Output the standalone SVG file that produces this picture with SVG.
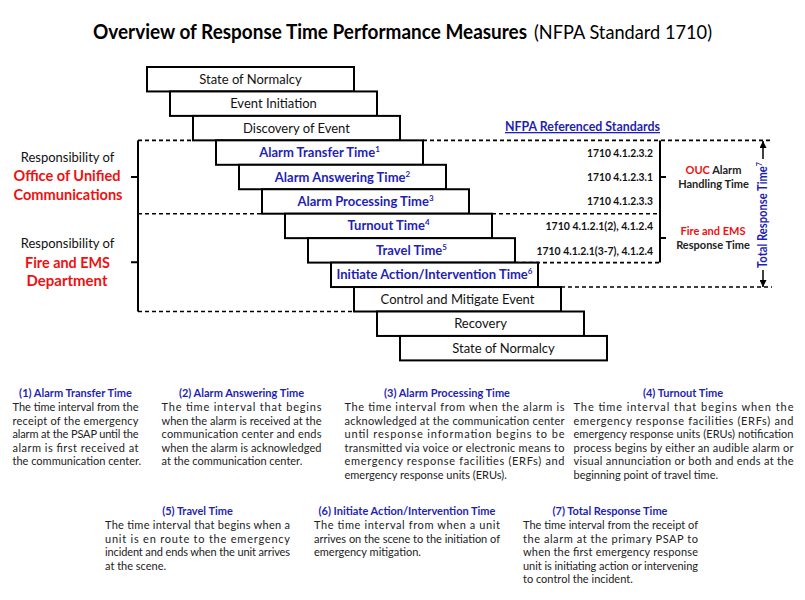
<svg xmlns="http://www.w3.org/2000/svg" width="805" height="600" viewBox="0 0 805 600">
<style>
text { font-family: Lato, "Liberation Sans", sans-serif; }
.box { fill:#fff; stroke:#000; stroke-width:2; }
.lbl { font-size:13px; text-anchor:middle; fill:#111; }
.blbl { font-weight:bold; fill:#1f1fb4; }
.dash { stroke:#000; stroke-width:1.6; stroke-dasharray:4 3; fill:none; }
.solid { stroke:#000; stroke-width:2; fill:none; }
.arr { stroke:#000; stroke-width:1.5; fill:none; marker-end:url(#ah); }
.hd { font-weight:bold; font-size:11px; fill:#1f1fb4; text-anchor:middle; }
.bd { font-size:11px; fill:#222; }
.std { font-weight:bold; font-size:12px; text-anchor:end; fill:#111; }
.side { font-weight:bold; font-size:11px; text-anchor:middle; fill:#222; }
.red { fill:#ee1111; }
.resp { font-size:13px; text-anchor:middle; fill:#111; }
.org { font-size:16px; font-weight:bold; text-anchor:middle; fill:#ee1111; }
</style>
<defs>
<marker id="ah" markerWidth="7" markerHeight="7" refX="7" refY="3.5" orient="auto" markerUnits="userSpaceOnUse">
<path d="M0,0 L7,3.5 L0,7 z" fill="#000"/>
</marker>
</defs>

<g id="title">
<text x="93" y="38.5" font-size="20" font-weight="bold" fill="#000" textLength="434" lengthAdjust="spacingAndGlyphs">Overview of Response Time Performance Measures</text>
<text x="534" y="38.5" font-size="20" fill="#000" textLength="178" lengthAdjust="spacingAndGlyphs">(NFPA Standard 1710)</text>
</g>

<g id="connectors">
<path class="solid" d="M138,140.4 V311.5 M131,177 H138 M131,262.3 H138"/>
<path class="dash" d="M138,140.4 H193 M138,213.7 H262 M138,311.5 H354"/>
<path class="dash" d="M423,140.4 H772 M492,213.7 H660 M515,262.6 H660 M561,287 H772"/>
<path class="solid" d="M660,140.4 V262.6 M660,177 H666 M660,238 H666"/>
<line class="arr" x1="763" y1="159" x2="763" y2="141"/>
<line class="arr" x1="763" y1="270" x2="763" y2="287"/>
</g>

<g id="n-state1"><rect class="box" x="147" y="67" width="207" height="24.45"/><text class="lbl" x="250.5" y="83.7">State of Normalcy</text></g>
<g id="n-initiation"><rect class="box" x="170" y="91.45" width="207" height="24.45"/><text class="lbl" x="273.5" y="108.2">Event Initiation</text></g>
<g id="n-discovery"><rect class="box" x="193" y="115.9" width="207" height="24.45"/><text class="lbl" x="296.5" y="132.6">Discovery of Event</text></g>
<g id="n-transfer"><rect class="box" x="216" y="140.35" width="207" height="24.45"/><text class="lbl blbl" x="319.5" y="157.1">Alarm Transfer Time<tspan font-size="8" dy="-5">1</tspan></text></g>
<g id="n-answering"><rect class="box" x="239" y="164.8" width="207" height="24.45"/><text class="lbl blbl" x="342.5" y="181.5">Alarm Answering Time<tspan font-size="8" dy="-5">2</tspan></text></g>
<g id="n-processing"><rect class="box" x="262" y="189.25" width="207" height="24.45"/><text class="lbl blbl" x="365.5" y="205.9">Alarm Processing Time<tspan font-size="8" dy="-5">3</tspan></text></g>
<g id="n-turnout"><rect class="box" x="285" y="213.7" width="207" height="24.45"/><text class="lbl blbl" x="388.5" y="230.4">Turnout Time<tspan font-size="8" dy="-5">4</tspan></text></g>
<g id="n-travel"><rect class="box" x="308" y="238.15" width="207" height="24.45"/><text class="lbl blbl" x="411.5" y="254.8">Travel Time<tspan font-size="8" dy="-5">5</tspan></text></g>
<g id="n-initiate"><rect class="box" x="331" y="262.6" width="207" height="24.45"/><text class="lbl blbl" x="434.5" y="279.3">Initiate Action/Intervention Time<tspan font-size="8" dy="-5">6</tspan></text></g>
<g id="n-control"><rect class="box" x="354" y="287.05" width="207" height="24.45"/><text class="lbl" x="457.5" y="303.7">Control and Mitigate Event</text></g>
<g id="n-recovery"><rect class="box" x="377" y="311.5" width="207" height="24.45"/><text class="lbl" x="480.5" y="328.2">Recovery</text></g>
<g id="n-state2"><rect class="box" x="400" y="335.95" width="207" height="24.45"/><text class="lbl" x="503.5" y="352.6">State of Normalcy</text></g>

<g id="ouc-label">
<text class="resp" x="67.5" y="162">Responsibility of</text>
<text class="org" x="67" y="180.7" textLength="107" lengthAdjust="spacingAndGlyphs">Office of Unified</text>
<text class="org" x="68" y="200" textLength="109" lengthAdjust="spacingAndGlyphs">Communications</text>
</g>
<g id="fes-label">
<text class="resp" x="67.5" y="248">Responsibility of</text>
<text class="org" x="67.5" y="267.5" textLength="85" lengthAdjust="spacingAndGlyphs">Fire and EMS</text>
<text class="org" x="67" y="285.5" textLength="81" lengthAdjust="spacingAndGlyphs">Department</text>
</g>

<g id="standards">
<text x="582.5" y="131" font-size="13" font-weight="bold" fill="#1f1fb4" text-anchor="middle" text-decoration="underline" textLength="155" lengthAdjust="spacingAndGlyphs">NFPA Referenced Standards</text>
<text class="std" x="653" y="156.5" textLength="66" lengthAdjust="spacingAndGlyphs">1710 4.1.2.3.2</text>
<text class="std" x="653" y="180.5" textLength="66" lengthAdjust="spacingAndGlyphs">1710 4.1.2.3.1</text>
<text class="std" x="653" y="205" textLength="66" lengthAdjust="spacingAndGlyphs">1710 4.1.2.3.3</text>
<text class="std" x="653" y="230" textLength="107.5" lengthAdjust="spacingAndGlyphs">1710 4.1.2.1(2), 4.1.2.4</text>
<text class="std" x="653" y="254.5" textLength="116.5" lengthAdjust="spacingAndGlyphs">1710 4.1.2.1(3-7), 4.1.2.4</text>
</g>
<g id="ouc-handling">
<text class="side" x="713.5" y="174"><tspan class="red">OUC</tspan> Alarm</text>
<text class="side" x="713.5" y="187.5">Handling Time</text>
</g>
<g id="fes-response">
<text class="side red" x="713" y="235">Fire and EMS</text>
<text class="side" x="713" y="249">Response Time</text>
</g>
<g id="total-response">
<text transform="translate(767,215) rotate(-90)" font-size="12.5" font-weight="bold" fill="#1f1fb4" text-anchor="middle" textLength="106" lengthAdjust="spacingAndGlyphs">Total Response Time<tspan font-size="8" dy="-5">7</tspan></text>
</g>

<g id="def1">
<text class="hd" x="75.5" y="397">(1) Alarm Transfer Time</text>
<text class="bd" x="12.5" y="411" textLength="126" lengthAdjust="spacing">The time interval from the</text>
<text class="bd" x="12.5" y="424.5" textLength="126" lengthAdjust="spacing">receipt of the emergency</text>
<text class="bd" x="12.5" y="438" textLength="126" lengthAdjust="spacing">alarm at the PSAP until the</text>
<text class="bd" x="12.5" y="451.5" textLength="126" lengthAdjust="spacing">alarm is first received at</text>
<text class="bd" x="12.5" y="465">the communication center.</text>
</g>
<g id="def2">
<text class="hd" x="241.5" y="397">(2) Alarm Answering Time</text>
<text class="bd" x="161.5" y="411" textLength="160" lengthAdjust="spacing">The time interval that begins</text>
<text class="bd" x="161.5" y="424.5" textLength="160" lengthAdjust="spacing">when the alarm is received at the</text>
<text class="bd" x="161.5" y="438" textLength="160" lengthAdjust="spacing">communication center and ends</text>
<text class="bd" x="161.5" y="451.5" textLength="160" lengthAdjust="spacing">when the alarm is acknowledged</text>
<text class="bd" x="161.5" y="465">at the communication center.</text>
</g>
<g id="def3">
<text class="hd" x="447" y="397">(3) Alarm Processing Time</text>
<text class="bd" x="344.5" y="411" textLength="220" lengthAdjust="spacing">The time interval from when the alarm is</text>
<text class="bd" x="344.5" y="424.5" textLength="220" lengthAdjust="spacing">acknowledged at the communication center</text>
<text class="bd" x="344.5" y="438" textLength="220" lengthAdjust="spacing">until response information begins to be</text>
<text class="bd" x="344.5" y="451.5" textLength="220" lengthAdjust="spacing">transmitted via voice or electronic means to</text>
<text class="bd" x="344.5" y="465" textLength="220" lengthAdjust="spacing">emergency response facilities (ERFs) and</text>
<text class="bd" x="344.5" y="478.5">emergency response units (ERUs).</text>
</g>
<g id="def4">
<text class="hd" x="683" y="397">(4) Turnout Time</text>
<text class="bd" x="573.5" y="411" textLength="220" lengthAdjust="spacing">The time interval that begins when the</text>
<text class="bd" x="573.5" y="424.5" textLength="220" lengthAdjust="spacing">emergency response facilities (ERFs) and</text>
<text class="bd" x="573.5" y="438" textLength="220" lengthAdjust="spacing">emergency response units (ERUs) notification</text>
<text class="bd" x="573.5" y="451.5" textLength="220" lengthAdjust="spacing">process begins by either an audible alarm or</text>
<text class="bd" x="573.5" y="465" textLength="220" lengthAdjust="spacing">visual annunciation or both and ends at the</text>
<text class="bd" x="573.5" y="478.5">beginning point of travel time.</text>
</g>
<g id="def5">
<text class="hd" x="197.5" y="515">(5) Travel Time</text>
<text class="bd" x="105" y="529" textLength="185" lengthAdjust="spacing">The time interval that begins when a</text>
<text class="bd" x="105" y="542.5" textLength="185" lengthAdjust="spacing">unit is en route to the emergency</text>
<text class="bd" x="105" y="556" textLength="185" lengthAdjust="spacing">incident and ends when the unit arrives</text>
<text class="bd" x="105" y="569.5">at the scene.</text>
</g>
<g id="def6">
<text class="hd" x="407" y="515">(6) Initiate Action/Intervention Time</text>
<text class="bd" x="314" y="529" textLength="186" lengthAdjust="spacing">The time interval from when a unit</text>
<text class="bd" x="314" y="542.5" textLength="186" lengthAdjust="spacing">arrives on the scene to the initiation of</text>
<text class="bd" x="314" y="556">emergency mitigation.</text>
</g>
<g id="def7">
<text class="hd" x="610" y="515">(7) Total Response Time</text>
<text class="bd" x="523" y="529" textLength="175" lengthAdjust="spacing">The time interval from the receipt of</text>
<text class="bd" x="523" y="542.5" textLength="175" lengthAdjust="spacing">the alarm at the primary PSAP to</text>
<text class="bd" x="523" y="556" textLength="175" lengthAdjust="spacing">when the first emergency response</text>
<text class="bd" x="523" y="569.5" textLength="175" lengthAdjust="spacing">unit is initiating action or intervening</text>
<text class="bd" x="523" y="583">to control the incident.</text>
</g>
</svg>
